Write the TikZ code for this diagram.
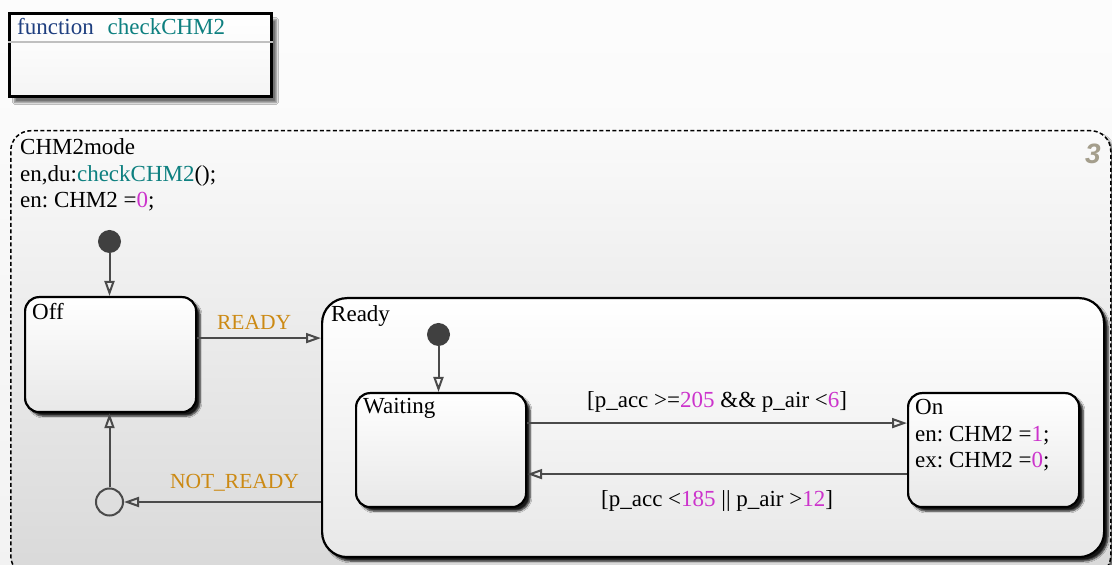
\documentclass[tikz,border=0pt]{standalone}
\usepackage{fontspec}
\setmainfont{Liberation Serif}
\newfontfamily\chartnumfont{Liberation Sans}
\usepackage{tikz}
\usetikzlibrary{positioning,arrows.meta,shadows.blur,calc}
\frenchspacing
\definecolor{wire}{HTML}{4A4A4A}
\definecolor{evt}{HTML}{CC8A14}
\definecolor{num}{HTML}{CC33CC}
\definecolor{fname}{HTML}{0E8080}
\definecolor{kw}{HTML}{1F3F80}
\definecolor{chartno}{HTML}{A49E8C}
\tikzset{
  st/.style={rectangle,rounded corners=14pt,draw=black,line width=2.2pt,
    top color=white,bottom color=black!9,anchor=north west,
    blur shadow={shadow xshift=4pt,shadow yshift=-4pt,shadow blur steps=6,shadow opacity=90}},
  stlbl/.style={anchor=base west,inner sep=0pt,align=left},
  ar/.style={-{Triangle[open,length=15pt,width=10pt]},line width=2pt,draw=wire},
  trn/.style={font=\fontsize{23}{26}\selectfont,inner sep=0pt,anchor=base},
  evlbl/.style={trn,font=\fontsize{21.5}{25}\selectfont,text=evt},
  initdot/.style={circle,fill=black!75,minimum size=23pt,inner sep=0pt},
  junc/.style={circle,draw=wire,line width=2pt,minimum size=27pt,inner sep=0pt},
}

\begin{document}
\begin{tikzpicture}[x=1pt,y=1pt,font=\fontsize{23}{26.5}\selectfont]
  \clip (0,0) rectangle (1112,565);
  \fill[top color=white!99!black,bottom color=black!5] (0,0) rectangle (1112,565);
  % function box
  \node[anchor=north west,draw=black,line width=3pt,minimum width=262pt,minimum height=83pt,
    top color=white,bottom color=black!4,
    blur shadow={shadow xshift=5pt,shadow yshift=-6pt,shadow blur steps=8,shadow opacity=55}] (fn) at (8,553) {};
  \draw[black!25,line width=1.5pt] ([yshift=-30pt]fn.north west) -- ([yshift=-30pt]fn.north east);
  \node[stlbl] (fnhead) at (17,530) {\textcolor{kw}{function}\hspace{0.6em}\textcolor{fname}{checkCHM2}};
  % chart
  \node[anchor=north west,draw=black,dash pattern=on 4pt off 2.5pt,line width=1.5pt,rounded corners=20pt,
    minimum width=1100pt,minimum height=445pt,top color=white!98!black,bottom color=black!15,
    blur shadow={shadow xshift=3pt,shadow yshift=-3pt,shadow blur steps=6,shadow opacity=60}] (chart) at (10,435) {};
  \node[stlbl] (chartlbl) at (20,357) {CHM2mode\\en,du:\textcolor{fname}{checkCHM2}();\\en: CHM2 =\textcolor{num}{0};};
  \node[font=\chartnumfont\fontsize{28}{30}\selectfont\bfseries\itshape,text=chartno] (chartno) at (1093,411) {3};
  % states
  \node[st,minimum width=171pt,minimum height=115pt] (off) at (24,269) {};
  \node[stlbl] (offlbl) at ([xshift=8pt,yshift=-23.5pt]off.north west) {Off};
  \node[st,rounded corners=25pt,minimum width=782pt,minimum height=259pt] (ready) at (321,268) {};
  \node[stlbl] (readylbl) at ([xshift=10pt,yshift=-24.7pt]ready.north west) {Ready};
  \node[st,minimum width=170pt,minimum height=114pt] (waiting) at (355,173) {};
  \node[stlbl] (waitinglbl) at ([xshift=8pt,yshift=-22pt]waiting.north west) {Waiting};
  \node[st,minimum width=171pt,minimum height=114pt] (on) at (907,173) {};
  \node[stlbl] (onlbl) at ([xshift=8pt,yshift=-75.7pt]on.north west) {On\\en: CHM2 =\textcolor{num}{1};\\ex: CHM2 =\textcolor{num}{0};};
  \node[initdot] (init1) at (109.5,323.5) {};
  \node[initdot] (init2) at (438.5,230.5) {};
  \node[junc] (jn) at (109.5,63) {};
  % transitions
  \draw[ar] (init1) -- (init1 |- off.north);
  \draw[ar] (init2) -- (init2 |- waiting.north);
  \draw[ar] ([yshift=16.5pt]off.east) -- ([yshift=16.5pt]off.east -| ready.west)
    node[midway,evlbl,xshift=-5pt,yshift=8.7pt]{READY};
  \draw[ar] ([yshift=27pt]waiting.east) -- ([yshift=27pt]waiting.east -| on.west)
    node[midway,trn,yshift=15.3pt]{[p\_acc >=\textcolor{num}{205} \&\& p\_air <\textcolor{num}{6}]};
  \draw[ar] ([yshift=-24pt]on.west) -- ([yshift=-24pt]on.west -| waiting.east)
    node[midway,trn,yshift=-32pt]{[p\_acc <\textcolor{num}{185} || p\_air >\textcolor{num}{12}]};
  \draw[ar] (ready.west |- jn) -- (jn) node[midway,evlbl,xshift=12pt,yshift=13.7pt]{NOT\_READY};
  \draw[ar] (jn) -- (jn |- off.south);
\end{tikzpicture}
\end{document}
